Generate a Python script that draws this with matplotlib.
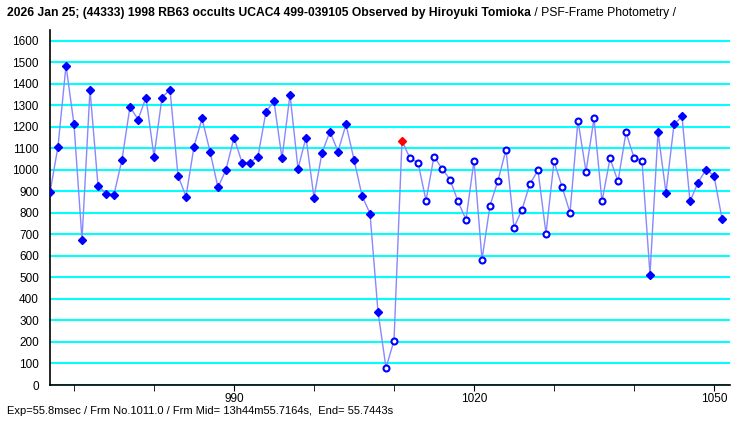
import matplotlib
matplotlib.use('Agg')
import matplotlib.pyplot as plt
import numpy as np

plt.rcParams['font.family'] = ['Liberation Sans', 'DejaVu Sans']

# frame numbers and measured intensity
frames = list(range(967, 1052))
flux = [895, 1108, 1485, 1211, 676, 1373, 927, 890, 885, 1048,
        1294, 1234, 1336, 1062, 1336, 1373, 973, 876, 1108, 1239,
        1085, 918, 1001, 1150, 1034, 1034, 1062, 1271, 1318, 1053,
        1350, 1006, 1150, 871, 1080, 1178, 1085, 1211, 1048, 880,
        797, 341, 80, 206, 1136, 1053, 1034, 857, 1062, 1006,
        955, 853, 769, 1043, 583, 834, 950, 1094, 732, 815,
        936, 997, 704, 1039, 922, 801, 1229, 992, 1239, 853,
        1053, 946, 1174, 1057, 1043, 513, 1174, 894, 1211, 1248,
        853, 941, 1001, 973, 773]

# frames drawn with open markers, and the reference frame
open_start, open_end = 1009, 1041
ref_frame = 1011

title_bold = "2026 Jan 25; (44333) 1998 RB63 occults UCAC4 499-039105 Observed by Hiroyuki Tomioka"
title_rest = " / PSF-Frame Photometry /"
footer = "Exp=55.8msec / Frm No.1011.0 / Frm Mid= 13h44m55.7164s,  End= 55.7443s"

x = np.array(frames)
y = np.array(flux)

fig = plt.figure(figsize=(7.4, 4.25), dpi=100)
ax = fig.add_axes([50/740, 1-385/425, 680/740, 355/425])

for v in range(0, 1700, 100):
    ax.axhline(v, color='#00FFFF', lw=1.5, zorder=1)

ax.plot(x, y, color='#8888FF', lw=1, zorder=2)

is_open = (x >= open_start) & (x <= open_end) & (x != ref_frame)
is_ref = x == ref_frame
is_fill = ~is_open & ~is_ref
ax.plot(x[is_fill], y[is_fill], 'D', color='#0000FF', ms=4.5, mec='#0000FF', ls='none', zorder=3)
ax.plot(x[is_open], y[is_open], 'o', mfc='white', mec='#0000FF', mew=1.5, ms=4.3, ls='none', zorder=3)
ax.plot(x[is_ref], y[is_ref], 'D', color='#FF0000', ms=4.5, ls='none', zorder=4)

ax.set_xlim(967, 1052)
ax.set_ylim(0, 1650)
ax.set_yticks(range(0, 1700, 100))
ax.set_xticks([990, 1020, 1050])
ax.set_xticks(range(970, 1051, 10), minor=True)
ax.tick_params(axis='y', length=0, labelsize=8.5, pad=8)
ax.tick_params(axis='x', which='both', direction='out', length=4, labelsize=8.5, color='black', pad=2)
for s in ['top', 'right']:
    ax.spines[s].set_visible(False)
ax.spines['left'].set_linewidth(1.2)
ax.spines['bottom'].set_linewidth(1.2)

t1 = fig.text(7/740, 1-13/425, title_bold, fontsize=8.7, fontweight='bold', va='center', ha='left')
fig.canvas.draw()
bb = t1.get_window_extent()
fig.text(bb.x1/740, 1-13/425, title_rest, fontsize=8.7, va='center', ha='left')
fig.text(7/740, 1-411/425, footer, fontsize=8, va='center', ha='left')

fig.savefig('out.png', dpi=100)
